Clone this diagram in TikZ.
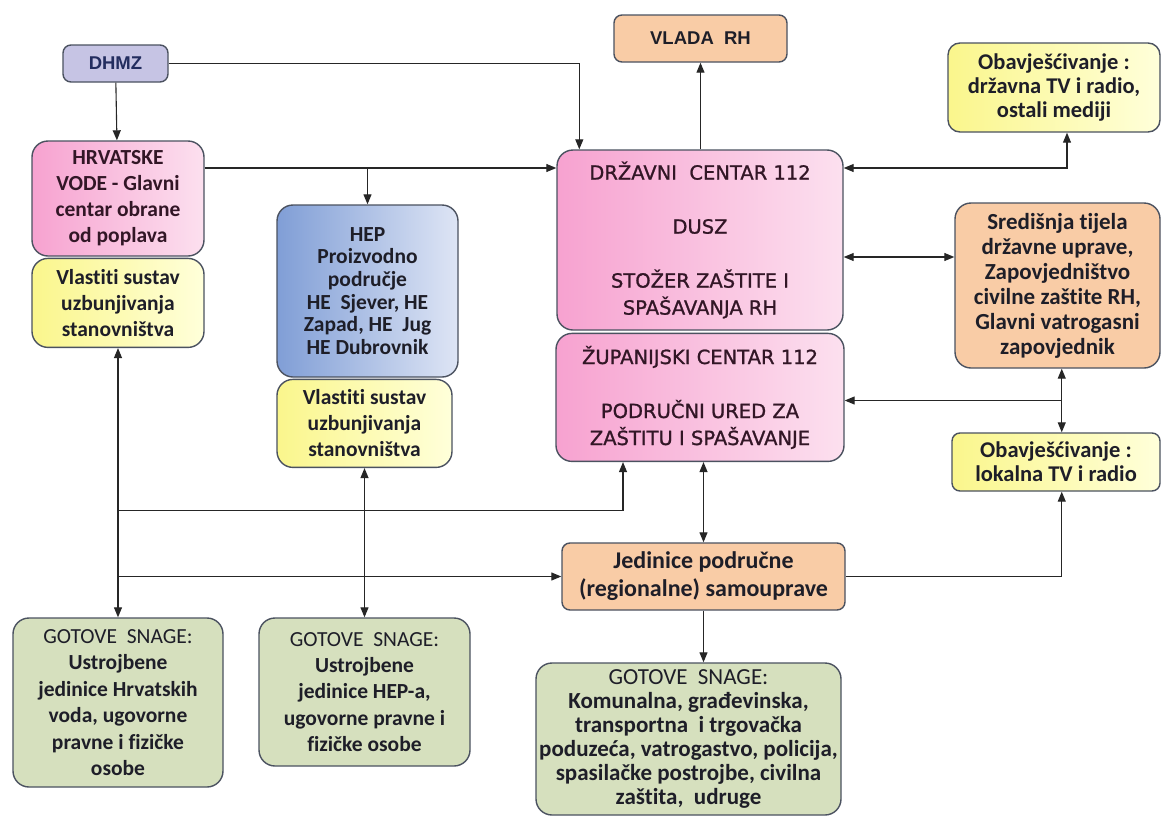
\documentclass[tikz,border=0pt]{standalone}
\usepackage{fontspec}
\setmainfont{Carlito}[Ligatures=NoCommon]
\newfontfamily\capsfont{DejaVu Sans}[FakeBold=1.1]
\newfontfamily\headfont{Liberation Sans}
\usetikzlibrary{arrows.meta, positioning, calc}
\definecolor{EdgeGray}{RGB}{75,82,96}
\definecolor{InkDark}{RGB}{30,30,40}
\definecolor{PinkInk}{RGB}{50,22,38}
\definecolor{NavyInk}{RGB}{35,45,95}
\definecolor{PinkDeep}{RGB}{247,162,208}
\definecolor{PinkPale}{RGB}{252,224,239}
\definecolor{BlueDeep}{RGB}{128,158,214}
\definecolor{BluePale}{RGB}{222,229,245}
\definecolor{YellowDeep}{RGB}{250,246,140}
\definecolor{YellowPale}{RGB}{255,255,218}
\definecolor{Peach}{RGB}{249,204,166}
\definecolor{Sage}{RGB}{214,224,190}
\definecolor{Lavender}{RGB}{198,196,228}
\newcommand{\boxsize}[2]{\fontsize{#1}{#2}\selectfont}

\begin{document}
\begin{tikzpicture}[x=1pt, y=-1pt,
  base/.style={draw=EdgeGray, line width=1.4pt, align=center, inner sep=2pt,
               text=InkDark, rounded corners=16pt},
  pinkbox/.style={base, left color=PinkDeep, right color=PinkPale, text=PinkInk},
  bluebox/.style={base, left color=BlueDeep, right color=BluePale},
  yellowbox/.style={base, left color=YellowDeep, right color=YellowPale},
  peachbox/.style={base, fill=Peach},
  sagebox/.style={base, fill=Sage},
  lavbox/.style={base, fill=Lavender, rounded corners=8pt, text=NavyInk},
  body/.style 2 args={font=\bfseries\boxsize{#1}{#2}},
  caps/.style={font=\capsfont\boxsize{19.5}{27}},
  head/.style={font=\headfont\bfseries\boxsize{18.5}{22}},
  arr/.style={-{Triangle[length=10pt,width=8pt]}, line width=1.1pt, black!85},
  dbl/.style={{Triangle[length=10pt,width=8pt]}-{Triangle[length=10pt,width=8pt]},
              line width=1.1pt, black!85},
]
\fill[white] (0,0) rectangle (1162,822);
\useasboundingbox (0,0) rectangle (1162,822);

% left column
\node[lavbox, head, minimum width=105pt, minimum height=37pt] (dhmz) at (115.5,63.5) {DHMZ};
\node[pinkbox, body={21.5}{26}, minimum width=172pt, minimum height=115pt] (hv) at (118,198.5)
  {HRVATSKE\\VODE - Glavni\\centar obrane\\od poplava};
\node[yellowbox, body={21.5}{26}, minimum width=172pt, minimum height=89pt, below=1pt of hv] (vl1)
  {Vlastiti sustav\\uzbunjivanja\\stanovništva};

% HEP
\node[bluebox, body={21.5}{22.7}, minimum width=181pt, minimum height=172pt] (hep) at (367.5,291)
  {HEP\\Proizvodno\\područje\\HE\ \ Sjever, HE\\Zapad, HE\ \ Jug\\HE Dubrovnik};
\node[yellowbox, body={21.5}{26}, minimum width=175pt, minimum height=88pt,
      below=1pt of hep.south west, anchor=north west] (vl2)
  {Vlastiti sustav\\uzbunjivanja\\stanovništva};

% centre
\node[pinkbox, caps, minimum width=286pt, minimum height=180pt] (dc) at (700,240)
  {DRŽAVNI\ \ CENTAR 112\\[27pt]DUSZ\\[27pt]STOŽER ZAŠTITE I\\SPAŠAVANJA RH};
\node[pinkbox, caps, minimum width=288pt, minimum height=128pt, below=2pt of dc] (zc)
  {ŽUPANIJSKI CENTAR 112\\[27pt]PODRUČNI URED ZA\\ZAŠTITU I SPAŠAVANJE};
\node[peachbox, head, rounded corners=8pt, minimum width=173pt, minimum height=47pt] (vlada)
  at (700.5,38.5) {VLADA\ \ RH};
\node[peachbox, body={24}{28}, rounded corners=8pt, minimum width=283pt, minimum height=67pt] (jed)
  at (703.5,576.5) {Jedinice područne\\(regionalne) samouprave};

% right column
\node[yellowbox, body={22.5}{24}, rounded corners=12pt, minimum width=212pt, minimum height=89pt] (ob1)
  at (1054,87.5) {Obavješćivanje :\\državna TV i radio,\\ostali mediji};
\node[peachbox, body={23}{25}, minimum width=205pt, minimum height=165pt] (sr) at (1057.5,285.5)
  {Središnja tijela\\državne uprave,\\Zapovjedništvo\\civilne zaštite RH,\\Glavni vatrogasni\\zapovjednik};
\node[yellowbox, body={22.5}{24}, rounded corners=8pt, minimum width=208pt, minimum height=58pt] (ob2)
  at (1056,462) {Obavješćivanje :\\lokalna TV i radio};

% forces
\node[sagebox, body={21.5}{26.4}, minimum width=210pt, minimum height=169pt] (g1) at (118,702.5)
  {{\mdseries GOTOVE\ \ SNAGE:}\\Ustrojbene\\jedinice Hrvatskih\\voda, ugovorne\\pravne i fizičke\\osobe};
\node[sagebox, body={21.5}{26.4}, minimum width=211pt, minimum height=148pt] (g2) at (364.5,692)
  {{\mdseries GOTOVE\ \ SNAGE:}\\Ustrojbene\\jedinice HEP-a,\\ugovorne pravne i\\fizičke osobe};
\node[sagebox, body={23}{24}, minimum width=305pt, minimum height=152pt] (g3) at (688.5,739)
  {{\mdseries GOTOVE\ \ SNAGE:}\\Komunalna, građevinska,\\transportna\ \ i trgovačka\\poduzeća, vatrogastvo, policija,\\spasilačke postrojbe, civilna\\zaštita,\ \ udruge};

% connectors
\coordinate (hvout) at ([yshift=30.5pt]hv.east);
\coordinate (srjoin) at ($(sr.south)!0.5!(ob2.north) + (5,0)$);
\coordinate (busA) at (vl1.south |- 0,510.5);

\draw[arr] (dhmz) -- (hv);
\draw[arr] (dhmz.east) -| ([xshift=23pt]dc.north west);
\draw[arr] (hvout) -- (hvout -| dc.west);
\draw[arr] (hvout -| hep.north) -- (hep.north);
\draw[arr] (dc.north -| vlada.south) -- (vlada.south);
\draw[dbl] ([xshift=13pt]ob1.south) |- ([yshift=72pt]dc.east);
\draw[dbl] ([yshift=-17pt]dc.east) -- ([yshift=-17pt]dc.east -| sr.west);
\draw[dbl] (srjoin |- sr.south) -- (srjoin |- ob2.north);
\draw[arr] (srjoin) -- (srjoin -| zc.east);
\draw[arr] (jed.east) -| (srjoin |- ob2.south);
\draw[dbl] (jed.north |- zc.south) -- (jed.north);
\draw[arr] (jed.south) -- (jed.south |- g3.north);
\draw[dbl] (vl1.south) -- (vl1.south |- g1.north);
\draw[arr] (busA) -| ([xshift=-77pt]zc.south);
\draw[arr] (vl1.south |- jed.west) -- (jed.west);
\draw[dbl] (vl2) -- (g2);
\end{tikzpicture}
\end{document}
